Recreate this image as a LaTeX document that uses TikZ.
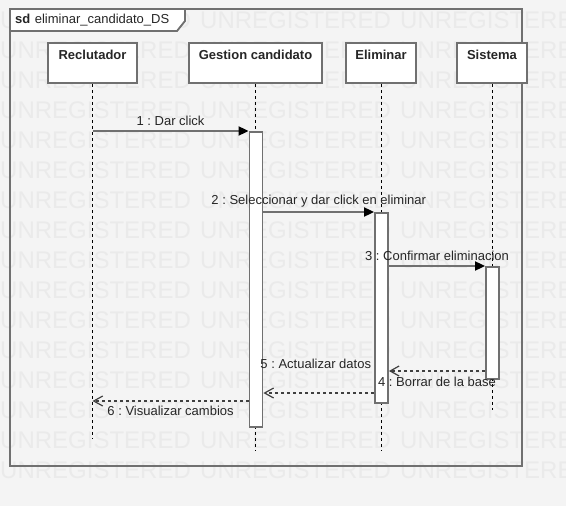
\documentclass[tikz,border=0pt]{standalone}
\usepackage{fontspec}
\setmainfont{Liberation Sans}
\frenchspacing
\usetikzlibrary{arrows.meta}
\definecolor{bg}{HTML}{F4F4F4}
\definecolor{wm}{HTML}{EAEAEA}
\definecolor{edge}{HTML}{707070}
\definecolor{txt}{HTML}{262626}
\definecolor{dash}{HTML}{404040}
\tikzset{
  lbl/.style={font=\fontsize{13}{15}\selectfont, text=txt, inner sep=0pt},
  boxtitle/.style={font=\fontsize{13}{15}\selectfont\bfseries, text=txt, inner sep=0pt},
  lifebox/.style={draw=edge, line width=1.8pt, fill=white, minimum height=40pt, inner sep=0pt, anchor=north},
  actbar/.style={draw=edge, line width=1.8pt, fill=white, minimum width=13pt, inner sep=0pt, anchor=north},
  lifeline/.style={draw=black, line width=0.9pt, dash pattern=on 3pt off 3pt},
  msgline/.style={draw=edge, line width=1.8pt, -{Triangle[length=10pt,width=9pt,fill=black,color=black]}},
  retline/.style={draw=dash, line width=1.2pt, dash pattern=on 3pt off 3pt, -{Straight Barb[length=9pt,width=10pt,line width=1.2pt]}},
  wmark/.style={font=\fontsize{24}{26}\selectfont, text=wm, inner sep=0pt, anchor=west}
}
\begin{document}
\begin{tikzpicture}[x=1pt,y=-1pt]
\useasboundingbox (0,0) rectangle (566,506);
\clip (0,0) rectangle (566,506);
\fill[bg] (0,0) rectangle (566,506);
% watermark
\foreach \r in {0,...,15}{
  \foreach \c in {0,1,2}{
    \node[wmark] (wm-\r-\c) at (\c*200, 20+30*\r) {UNREGISTERED};
  }
}
% frame
\draw[edge, line width=1.8pt] (10,9) rectangle (522,466);
\draw[edge, line width=1.8pt, fill=white] (10,9) -- (185,9) -- (185,21) -- (177,31) -- (10,31) -- cycle;
\node[lbl, anchor=west] (title) at (15,20.5) {\textbf{sd}\hspace{4.5pt}eliminar\_candidato\_DS};
% lifeline boxes
\node[lifebox, minimum width=89pt] (rec) at (92.5,42) {};
\node[lifebox, minimum width=133pt] (gest) at (255.5,42) {};
\node[lifebox, minimum width=70pt] (elim) at (381,42) {};
\node[lifebox, minimum width=70pt] (sist) at (492,42) {};
\node[boxtitle] (trec) at (92.5,55) {Reclutador};
\node[boxtitle] (tgest) at (255.5,55) {Gestion candidato};
\node[boxtitle] (telim) at (381,55) {Eliminar};
\node[boxtitle] (tsist) at (492,55) {Sistema};
% lifelines
\coordinate (recend) at (92.5,439);
\coordinate (gestend) at (255.5,450);
\coordinate (elimend) at (381,450);
\coordinate (sistend) at (492,410);
\draw[lifeline] (rec.south) -- (recend);
\draw[lifeline] (gest.south) -- (gestend);
\draw[lifeline] (elim.south) -- (elimend);
\draw[lifeline] (sist.south) -- (sistend);
% activations
\node[actbar, minimum height=295pt] (ga) at (256,131) {};
\node[actbar, minimum height=190pt] (ea) at (381.5,212) {};
\node[actbar, minimum height=112pt] (sa) at (492.5,266) {};
% messages
\coordinate (y4) at (0,371);
\coordinate (y5) at (0,393);
\coordinate (y6) at (0,401);
\draw[msgline] (rec.south |- ga.north) -- node[lbl, midway, yshift=10pt] (l1) {1 : Dar click} (ga.north west);
\draw[msgline] (ga.east |- ea.north) -- node[lbl, midway, yshift=10.5pt] (l2) {2 : Seleccionar y dar click en eliminar} (ea.north west);
\draw[msgline] (ea.east |- sa.north) -- node[lbl, midway, yshift=10pt] (l3) {3 : Confirmar eliminacion} (sa.north west);
\draw[retline] (sa.west |- y4) -- node[lbl, midway, yshift=-11pt] (l4) {4 : Borrar de la base} (ea.east |- y4);
\draw[retline] (ea.west |- y5) -- node[lbl, midway, xshift=-3pt, yshift=29pt] (l5) {5 : Actualizar datos} (ga.east |- y5);
\draw[retline] (ga.west |- y6) -- node[lbl, midway, yshift=-10pt] (l6) {6 : Visualizar cambios} (rec.south |- y6);
\end{tikzpicture}
\end{document}
